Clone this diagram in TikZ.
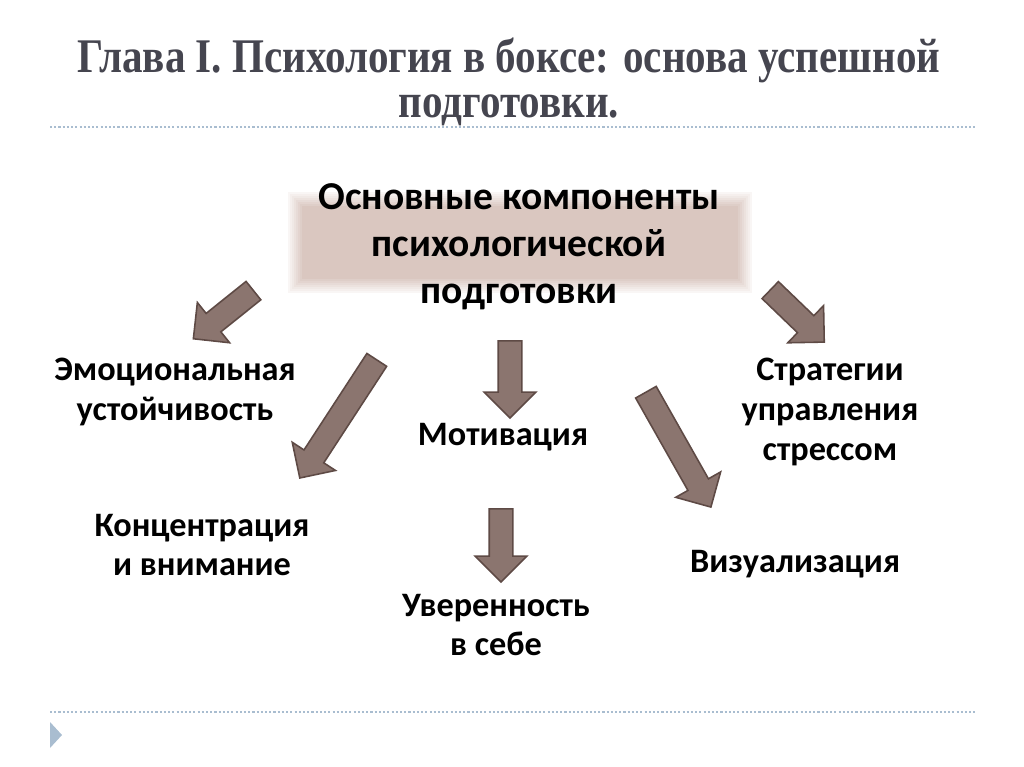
\documentclass[tikz,border=0pt]{standalone}
\usepackage{fontspec}
\setmainfont{Carlito}
\newfontfamily\titlefont[FakeStretch=0.85]{Liberation Serif}
\usetikzlibrary{shapes.arrows,positioning}
\definecolor{arrowFill}{HTML}{8B756F}
\definecolor{arrowLine}{HTML}{5E4A45}
\definecolor{titleGrey}{HTML}{45454F}
\definecolor{ruleBlue}{HTML}{A9BDD0}
\definecolor{boxFill}{HTML}{DAC7C0}
\tikzset{bigArrow/.style={single arrow,draw=arrowLine,fill=arrowFill,line width=0.9pt,inner xsep=0pt,inner ysep=0.22cm,single arrow head extend=0.28cm,minimum height=#1}}
\tikzset{label/.style={align=center,font=\fontsize{19.5}{22.7}\selectfont\bfseries}}
\tikzset{titleLine/.style={titleGrey,anchor=base,inner sep=0pt,font=\titlefont\fontsize{27.5}{25}\selectfont\bfseries}}
\tikzset{rule/.style={ruleBlue,line width=0.8pt,dash pattern=on 1.2pt off 1.2pt}}

\begin{document}
\begin{tikzpicture}[x=0.02cm,y=-0.02cm]
\useasboundingbox (0,0) rectangle (1024,767);
% title and rules
\node (title) [titleLine] at (509,72) {Глава I. Психология в боксе: основа успешной};
\node (title2) [titleLine] at (509,117) {подготовки.};
\draw [rule] (50,127) -- (975,127);
\draw [rule] (50,712) -- (975,712);
\fill [ruleBlue] (50,722) -- (62,735) -- (50,748) -- cycle;
% soft box behind the heading
\foreach \i in {0,...,7}{
	\pgfmathtruncatemacro\shadeP{16+12*\i}
	\fill [boxFill!\shadeP] (288+2*\i,192+2*\i) rectangle (752-2*\i,293-2*\i);}
\node (main) [align=center,font=\fontsize{22.5}{26.7}\selectfont\bfseries] at (519,247) {Основные компоненты\\психологической\\подготовки};
% components
\node (emo) [label] at (175,392) {Эмоциональная\\устойчивость};
\node (conc) [label] at (202,545) {Концентрация\\и внимание};
\node (motiv) [label] at (503,437) {Мотивация};
\node (conf) [label] at (496,625) {Уверенность\\в себе};
\node (strat) [label] at (830,412) {Стратегии\\управления\\стрессом};
\node (vis) [label] at (795,564) {Визуализация};
% arrows
\node (toEmo) [bigArrow=1.54cm,rotate=218.7] at (228,311) {};
\node (toConc) [bigArrow=2.82cm,rotate=236.9] at (341.5,414) {};
\node (toMotiv) [bigArrow=1.54cm,rotate=-90] at (510,373.5) {};
\node (toConf) [bigArrow=1.46cm,rotate=-90] at (501,539.5) {};
\node (toVis) [bigArrow=2.64cm,rotate=-60.5] at (675.5,444.5) {};
\node (toStrat) [bigArrow=1.50cm,rotate=-43.9] at (793,312) {};
\end{tikzpicture}
\end{document}
